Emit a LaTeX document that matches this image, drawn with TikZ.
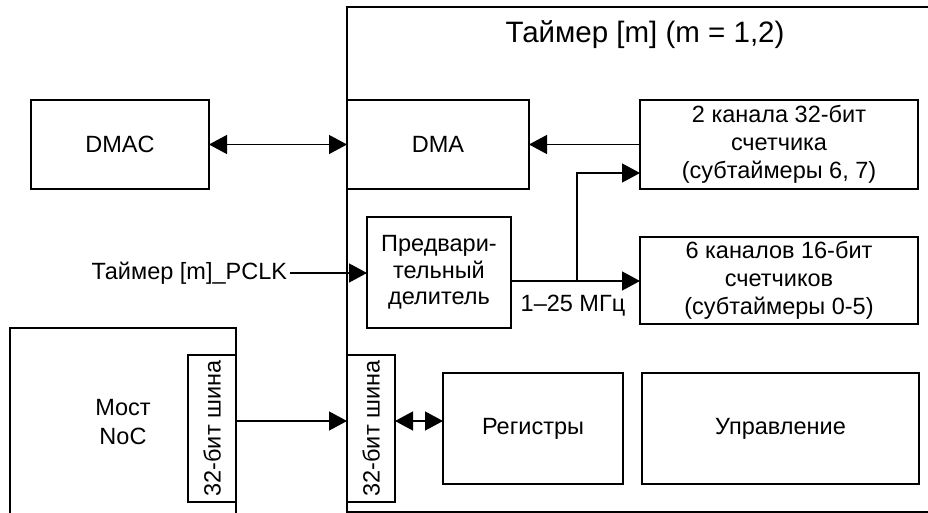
\documentclass[tikz,border=0pt]{standalone}
\usepackage{fontspec}
\setmainfont{Liberation Sans}
\usetikzlibrary{arrows.meta}
\begin{document}
\begin{tikzpicture}[x=1pt,y=1pt,
  line width=1.3pt,
  every node/.style={font=\fontsize{23.5}{28}\selectfont, inner sep=0pt, outer sep=0pt},
  box/.style={draw, align=center},
  tip/.style={-{Triangle[length=18pt,width=19pt]}},
  tips/.style={{Triangle[length=18pt,width=19pt]}-{Triangle[length=18pt,width=19pt]}},
  bus/.style={box, minimum width=48pt, minimum height=147pt}
]
\useasboundingbox (0,0) rectangle (928,-513);

% enclosing timer block (open to the right)
\draw (935,-7) -- (347,-7) -- (347,-512) -- (935,-512);
\node[font=\fontsize{29.5}{34}\selectfont] (title) at (645,-35) {Таймер [m] (m = 1,2)};

% NoC bridge block (open at the bottom)
\draw (10,-520) -- (10,-328) -- (236,-328) -- (236,-520);
\node[align=center, font=\fontsize{23.5}{29}\selectfont] (noc) at (123,-422) {Мост\\NoC};

% blocks
\node[box, minimum width=178pt, minimum height=89pt] (dmac) at (120,-144.5) {DMAC};
\node[box, minimum width=182pt, minimum height=89pt] (dma) at (438,-144.5) {DMA};
\node[box, minimum width=278pt, minimum height=89pt] (cnt32) at (779,-144.5) {2 канала 32-бит\\счетчика\\(субтаймеры 6, 7)};
\node[box, minimum width=278pt, minimum height=87pt] (cnt16) at (779,-280.5) {6 каналов 16-бит\\счетчиков\\(субтаймеры 0-5)};
\node[box, minimum width=144pt, minimum height=111pt, font=\fontsize{23.5}{26.5}\selectfont] (presc) at (439,-272.5) {Предвари-\\тельный\\делитель};
\node[bus, label={[rotate=90]center:32-бит шина}] (bus1) at (212,-428.5) {};
\node[bus, label={[rotate=90]center:32-бит шина}] (bus2) at (371,-428.5) {};
\node[box, minimum width=180pt, minimum height=111pt] (regs) at (533,-428.5) {Регистры};
\node[box, minimum width=277pt, minimum height=111pt] (ctrl) at (780.5,-428.5) {Управление};

% clock input and frequency label
\node[anchor=east] (pclk) at (287,-273) {Таймер [m]\_PCLK};
\node (freq) at (573,-306) {1–25 МГц};

% helper points
\coordinate (branch) at (577,-281);
\coordinate (uprow) at (0,-173);
\coordinate (busrow) at (0,-421);

% connectors
\draw[tips] (dmac.east) -- (dma.west);
\draw[tip] (cnt32.west) -- (dma.east);
\draw[tip] ([xshift=3pt]pclk.east) -- (presc.west |- pclk.east);
\draw[tip] (presc.east |- branch) -- (cnt16.west |- branch);
\draw[tip] (branch) |- (cnt32.west |- uprow);
\draw[tip] (bus1.east |- busrow) -- (bus2.west |- busrow);
\draw[tips] (bus2.east |- busrow) -- (regs.west |- busrow);
\end{tikzpicture}
\end{document}
